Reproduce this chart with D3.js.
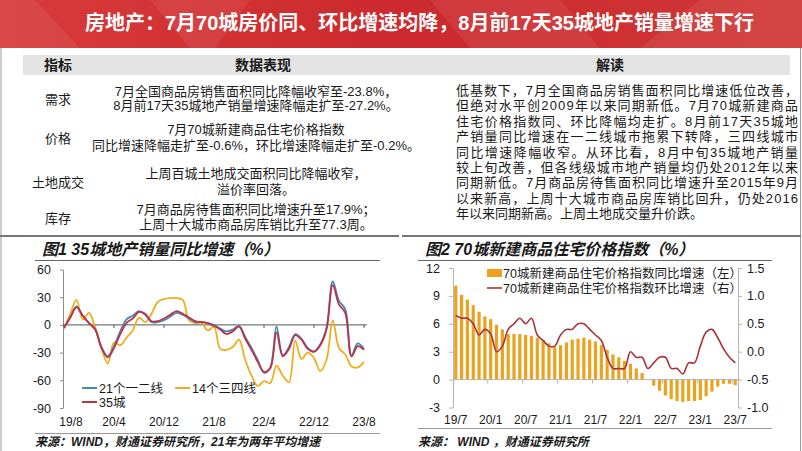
<!DOCTYPE html>
<html>
<head>
<meta charset="utf-8">
<script src="https://cdn.jsdelivr.net/npm/d3@7/dist/d3.min.js"></script>
<style>
  body { margin: 0; background: #fff; }
  svg text { font-family: "Liberation Sans", "Noto Sans CJK SC", sans-serif; fill: #1a1a1a; }
  .cjk { font-family: "Noto Sans CJK SC", sans-serif; }
</style>
</head>
<body>
<div id="vis"></div>
<script>
// ---------- data ----------
// header title
let pageTitle = '房地产：7月70城房价同、环比增速均降，8月前17天35城地产销量增速下行';

// left table: indicator / data lines
let tableHeads = ['指标', '数据表现', '解读'];
let indicators = ['需求', '价格', '土地成交', '库存'];
let indicatorLines = [
  ['7月全国商品房销售面积同比降幅收窄至-23.8%，', '8月前17天35城地产销量增速降幅走扩至-27.2%。'],
  ['7月70城新建商品住宅价格指数', '同比增速降幅走扩至-0.6%，环比增速降幅走扩至-0.2%。'],
  ['上周百城土地成交面积同比降幅收窄，', '溢价率回落。'],
  ['7月商品房待售面积同比增速升至17.9%；', '上周十大城市商品房库销比升至77.3周。']
];
let readLines = [
  '低基数下，7月全国商品房销售面积同比增速低位改善，',
  '但绝对水平创2009年以来同期新低。7月70城新建商品',
  '住宅价格指数同、环比降幅均走扩。8月前17天35城地',
  '产销量同比增速在一二线城市拖累下转降，三四线城市',
  '同比增速降幅收窄。从环比看，8月中旬35城地产销量',
  '较上旬改善，但各线级城市地产销量均仍处2012年以来',
  '同期新低。7月商品房待售面积同比增速升至2015年9月',
  '以来新高，上周十大城市商品房库销比回升，仍处2016',
  '年以来同期新高。上周土地成交量升价跌。'
];

// chart 1: 35 city sales yoy, monthly 19/8 .. 23/8
let months1 = [
  '19/8', '19/9', '19/10', '19/11', '19/12', '20/1', '20/2', '20/3', '20/4', '20/5', '20/6', '20/7',
  '20/8', '20/9', '20/10', '20/11', '20/12', '21/1', '21/2', '21/3', '21/4', '21/5', '21/6', '21/7',
  '21/8', '21/9', '21/10', '21/11', '21/12', '22/1', '22/2', '22/3', '22/4', '22/5', '22/6', '22/7',
  '22/8', '22/9', '22/10', '22/11', '22/12', '23/1', '23/2', '23/3', '23/4', '23/5', '23/6', '23/7', '23/8'
];
let tier12 = [
  -3, 8, 20, 10, 2, -5, -24, -34, -23, -7, 6, 10,
  15, 11, 3, 3, 5, 9, 13, 11, 7, 3, 3, 2,
  0, -4, -7, -5, -1, -13, -25, -38, -52, -46, -2, -33,
  -24, -10, -15, -25, -29, -21, -3, 47, 26, 17, -33, -20, -26
];
let tier34 = [
  -4, 12, 27, 6, 13, -3, -25, -42, -19, -22, -14, -6,
  8, 3, 12, 25, 28, 29, 29, 27, 5, 2, 2, -6,
  -2, -26, -27, -24, -16, -38, -55, -66, -61, -63, -44, -55,
  -62, -17, -37, -30, -36, -50, -38, 5, -25, -32, -45, -46, -40
];
let city35 = [
  -3, 8, 19, 10, 2, -5, -25, -35, -25, -10, 2, 7,
  14, 12, 4, 4, 7, 11, 15, 12, 8, 4, 3, 2,
  -1, -5, -10, -7, -2, -15, -27, -40, -51, -47, -8, -34,
  -26, -11, -16, -26, -29, -22, -5, 43, 22, 13, -34, -23, -27
];
let ticks1 = ['19/8', '20/4', '20/12', '21/8', '22/4', '22/12', '23/8'];
let yTicks1 = [60, 30, 0, -30, -60, -90];

// chart 2: 70 city new home price index, monthly 19/7 .. 23/7
let months2 = [
  '19/7', '19/8', '19/9', '19/10', '19/11', '19/12', '20/1', '20/2', '20/3', '20/4', '20/5', '20/6',
  '20/7', '20/8', '20/9', '20/10', '20/11', '20/12', '21/1', '21/2', '21/3', '21/4', '21/5', '21/6',
  '21/7', '21/8', '21/9', '21/10', '21/11', '21/12', '22/1', '22/2', '22/3', '22/4', '22/5', '22/6',
  '22/7', '22/8', '22/9', '22/10', '22/11', '22/12', '23/1', '23/2', '23/3', '23/4', '23/5', '23/6', '23/7'
];
let priceYoy = [
  10.1, 9.1, 8.6, 8.0, 7.3, 6.8, 6.5, 5.9, 5.4, 4.9, 4.9, 4.9,
  4.8, 4.7, 4.5, 4.3, 3.9, 3.5, 3.7, 4.0, 4.3, 4.4, 4.5, 4.3,
  4.1, 3.7, 3.2, 2.7, 2.4, 2.0, 1.7, 1.2, 0.7, 0.0, -0.65, -1.2,
  -1.7, -2.1, -2.3, -2.4, -2.3, -2.3, -2.2, -1.8, -1.3, -0.75, -0.45, -0.45, -0.6
];
let priceMom = [
  0.65, 0.6, 0.6, 0.5, 0.3, 0.4, 0.32, 0.0, 0.1, 0.4, 0.5, 0.6,
  0.5, 0.6, 0.3, 0.2, 0.1, 0.1, 0.3, 0.4, 0.4, 0.5, 0.5, 0.4,
  0.3, 0.2, -0.1, -0.3, -0.3, -0.3, 0.0, -0.1, -0.1, -0.3, -0.2, -0.1,
  -0.1, -0.3, -0.3, -0.4, -0.2, -0.2, 0.1, 0.35, 0.4, 0.25, 0.05, -0.1, -0.2
];
let ticks2 = ['19/7', '20/1', '20/7', '21/1', '21/7', '22/1', '22/7', '23/1', '23/7'];
let yTicks2L = [12, 9, 6, 3, 0, -3];
let yTicks2R = [1.5, 1.0, 0.5, 0.0, -0.5, -1.0];

// ---------- drawing ----------
let width = 802;
let height = 451;
let colors = { blue: '#4b87b5', orange: '#f0ad1d', red: '#bb3349', bar: '#eba21e', mom: '#a9323a', axis: '#8c8c8c' };

let svg = d3.select('#vis').append('svg')
  .attr('width', width)
  .attr('height', height);

svg.append('rect').attr('width', width).attr('height', height).attr('fill', '#fff');

// banner
let defs = svg.append('defs');
let grad = defs.append('linearGradient').attr('id', 'banner').attr('x1', 0).attr('x2', 1);
grad.append('stop').attr('offset', 0).attr('stop-color', '#d83a3a');
grad.append('stop').attr('offset', 0.5).attr('stop-color', '#cc2a2e');
grad.append('stop').attr('offset', 1).attr('stop-color', '#d03634');

svg.append('rect').attr('x', 0).attr('y', 0).attr('width', width).attr('height', 48).attr('fill', 'url(#banner)');
// soft diagonal facets of the banner
let facets = [
  [[0, 0], [35, 0], [80, 48], [0, 48]],
  [[150, 0], [250, 0], [215, 48], [190, 48]],
  [[430, 0], [560, 0], [600, 48], [470, 48]],
  [[640, 48], [700, 0], [802, 0], [802, 48]]
];
svg.selectAll('.facet').data(facets).enter().append('path')
  .attr('class', 'facet')
  .attr('d', d => 'M' + d.join('L') + 'Z')
  .attr('fill', '#ffffff')
  .attr('opacity', 0.07);

svg.append('text')
  .attr('x', 85).attr('y', 30)
  .attr('font-size', 20).attr('font-weight', 'bold')
  .style('fill', '#fff')
  .text(pageTitle);

// slide border
svg.append('line').attr('x1', 1).attr('x2', 1).attr('y1', 48).attr('y2', height).attr('stroke', '#9a9a9a');
svg.append('line').attr('x1', 800.5).attr('x2', 800.5).attr('y1', 48).attr('y2', height).attr('stroke', '#9a9a9a');

// ---------- table ----------
svg.append('rect').attr('x', 23).attr('y', 55).attr('width', 767).attr('height', 20).attr('fill', '#e4e4e4');
let headX = [58, 263, 610];
tableHeads.forEach((t, i) => {
  svg.append('text')
    .attr('x', headX[i]).attr('y', 70)
    .attr('text-anchor', 'middle')
    .attr('font-size', 14).attr('font-weight', 'bold')
    .text(t);
});

let rowY = [[92, 106], [130, 146], [174, 190], [210, 225]];
indicators.forEach((t, i) => {
  svg.append('text')
    .attr('x', 58).attr('y', (rowY[i][0] + rowY[i][1]) / 2 + 5)
    .attr('text-anchor', 'middle')
    .attr('font-size', 13)
    .text(t);
  indicatorLines[i].forEach((line, j) => {
    svg.append('text')
      .attr('x', 256).attr('y', rowY[i][j] + 4)
      .attr('text-anchor', 'middle')
      .attr('font-size', 13)
      .text(line);
  });
});

readLines.forEach((line, i) => {
  let t = svg.append('text')
    .attr('x', 456).attr('y', 95 + i * 15.4)
    .attr('font-size', 13)
    .text(line);
  if (i < readLines.length - 1) {
    t.attr('textLength', 342).attr('lengthAdjust', 'spacing');
  }
});

// chart panels top rule
svg.append('line').attr('x1', 0).attr('x2', 399).attr('y1', 236).attr('y2', 236).attr('stroke', '#777').attr('stroke-width', 2);
svg.append('line').attr('x1', 402).attr('x2', 801).attr('y1', 236).attr('y2', 236).attr('stroke', '#777').attr('stroke-width', 2);

// helper for titles, rules and footnotes of each panel
function panelFrame(x0, x1, title, note, noteRuleY) {
  svg.append('text')
    .attr('x', x0 + 7).attr('y', 255)
    .attr('font-size', 16).attr('font-weight', 'bold').attr('font-style', 'italic')
    .text(title);
  svg.append('line').attr('x1', x0).attr('x2', x1).attr('y1', 260.5).attr('y2', 260.5).attr('stroke', '#666');
  svg.append('line').attr('x1', x0).attr('x2', x1).attr('y1', noteRuleY).attr('y2', noteRuleY).attr('stroke', '#999');
  svg.append('text')
    .attr('x', x0).attr('y', 446)
    .attr('font-size', 12).attr('font-weight', 'bold').attr('font-style', 'italic')
    .text(note);
}

panelFrame(35, 380, '图1 35城地产销量同比增速（%）', '来源：WIND，财通证券研究所，21年为两年平均增速', 433.5);
panelFrame(418, 772, '图2 70城新建商品住宅价格指数（%）', '来源： WIND ，财通证券研究所', 428.5);

// ---------- chart 1 ----------
let x1 = d3.scaleLinear().domain([0, months1.length - 1]).range([64, 364]);
let y1 = d3.scaleLinear().domain([-90, 60]).range([408, 269.5]);

let yAxis1 = d3.axisLeft(y1).tickValues(yTicks1).tickSize(3).tickPadding(9).tickSizeOuter(0).tickFormat(d => String(d));
let gy1 = svg.append('g').attr('transform', 'translate(63,0)').call(yAxis1);
gy1.selectAll('path, line').attr('stroke', colors.axis);
gy1.selectAll('text').attr('font-size', 12.5).style('fill', '#1a1a1a');

// zero line with ticks
svg.append('line')
  .attr('x1', 63).attr('x2', 367)
  .attr('y1', y1(0)).attr('y2', y1(0))
  .attr('stroke', '#555');
svg.selectAll('.tick1').data(ticks1).enter().append('line')
  .attr('class', 'tick1')
  .attr('x1', d => x1(months1.indexOf(d))).attr('x2', d => x1(months1.indexOf(d)))
  .attr('y1', y1(0)).attr('y2', y1(0) + 3)
  .attr('stroke', '#555');
svg.selectAll('.lab1').data(ticks1).enter().append('text')
  .attr('class', 'lab1')
  .attr('x', (d, i) => x1(months1.indexOf(d)) + (i === 0 ? 7 : 0))
  .attr('y', 426)
  .attr('text-anchor', 'middle')
  .attr('font-size', 12)
  .text(d => d);

let line1 = d3.line()
  .curve(d3.curveCatmullRom.alpha(0.5))
  .x((d, i) => x1(i))
  .y(d => y1(d));

let series1 = [
  { name: '14个三四线', values: tier34, color: colors.orange },
  { name: '21个一二线', values: tier12, color: colors.blue },
  { name: '35城', values: city35, color: colors.red }
];
series1.forEach(s => {
  svg.append('path')
    .attr('d', line1(s.values))
    .attr('fill', 'none')
    .attr('stroke', s.color)
    .attr('stroke-width', 1.8);
});

// legend chart 1
let legend1 = [
  { name: '21个一二线', color: colors.blue, x: 82, y: 388 },
  { name: '14个三四线', color: colors.orange, x: 175, y: 388 },
  { name: '35城', color: colors.red, x: 82, y: 402 }
];
legend1.forEach(l => {
  svg.append('line').attr('x1', l.x).attr('x2', l.x + 15).attr('y1', l.y).attr('y2', l.y)
    .attr('stroke', l.color).attr('stroke-width', 2);
  svg.append('text').attr('x', l.x + 17).attr('y', l.y + 4.5)
    .attr('font-size', 12.5).text(l.name);
});

// ---------- chart 2 ----------
let x2 = d3.scaleBand().domain(months2).range([453, 738]).paddingInner(0.45).paddingOuter(0.2);
let y2L = d3.scaleLinear().domain([-3, 12]).range([407.5, 268]);
let y2R = d3.scaleLinear().domain([-1, 1.5]).range([407.5, 268]);

let gy2L = svg.append('g').attr('transform', 'translate(453,0)')
  .call(d3.axisLeft(y2L).tickValues(yTicks2L).tickSize(4).tickPadding(9).tickSizeOuter(0).tickFormat(d => String(d)));
let gy2R = svg.append('g').attr('transform', 'translate(738,0)')
  .call(d3.axisRight(y2R).tickValues(yTicks2R).tickSize(4).tickPadding(5).tickSizeOuter(0).tickFormat(d => d.toFixed(1)));
[gy2L, gy2R].forEach(g => {
  g.selectAll('path, line').attr('stroke', '#b5b5b5');
  g.selectAll('text').attr('font-size', 12.5).style('fill', '#1a1a1a');
});

svg.selectAll('.bar2').data(priceYoy).enter().append('rect')
  .attr('class', 'bar2')
  .attr('x', (d, i) => x2(months2[i]))
  .attr('width', x2.bandwidth())
  .attr('y', d => y2L(Math.max(d, 0)))
  .attr('height', d => Math.abs(y2L(d) - y2L(0)))
  .attr('fill', colors.bar);

// zero line with ticks
let gap2 = (x2.step() - x2.bandwidth()) / 2;
svg.append('line')
  .attr('x1', 453).attr('x2', 738)
  .attr('y1', y2L(0)).attr('y2', y2L(0))
  .attr('stroke', '#b5b5b5');
svg.selectAll('.tick2').data(ticks2.slice(1)).enter().append('line')
  .attr('class', 'tick2')
  .attr('x1', d => x2(d) - gap2).attr('x2', d => x2(d) - gap2)
  .attr('y1', y2L(0)).attr('y2', y2L(0) + 4)
  .attr('stroke', '#b5b5b5');
svg.selectAll('.lab2').data(ticks2).enter().append('text')
  .attr('class', 'lab2')
  .attr('x', d => x2(d) + x2.bandwidth() / 2)
  .attr('y', 424)
  .attr('text-anchor', 'middle')
  .attr('font-size', 12)
  .text(d => d);

let line2 = d3.line()
  .curve(d3.curveCatmullRom.alpha(0.5))
  .x((d, i) => x2(months2[i]) + x2.bandwidth() / 2)
  .y(d => y2R(d));
svg.append('path')
  .attr('d', line2(priceMom))
  .attr('fill', 'none')
  .attr('stroke', colors.mom)
  .attr('stroke-width', 1.6);

// legend chart 2
svg.append('rect').attr('x', 487).attr('y', 269).attr('width', 15).attr('height', 8).attr('fill', colors.bar);
svg.append('text').attr('x', 503).attr('y', 277.5).attr('font-size', 12.5)
  .text('70城新建商品住宅价格指数同比增速（左）');
svg.append('line').attr('x1', 487).attr('x2', 502).attr('y1', 288).attr('y2', 288)
  .attr('stroke', colors.mom).attr('stroke-width', 1.6);
svg.append('text').attr('x', 503).attr('y', 292.5).attr('font-size', 12.5)
  .text('70城新建商品住宅价格指数环比增速（右）');
</script>
</body>
</html>
